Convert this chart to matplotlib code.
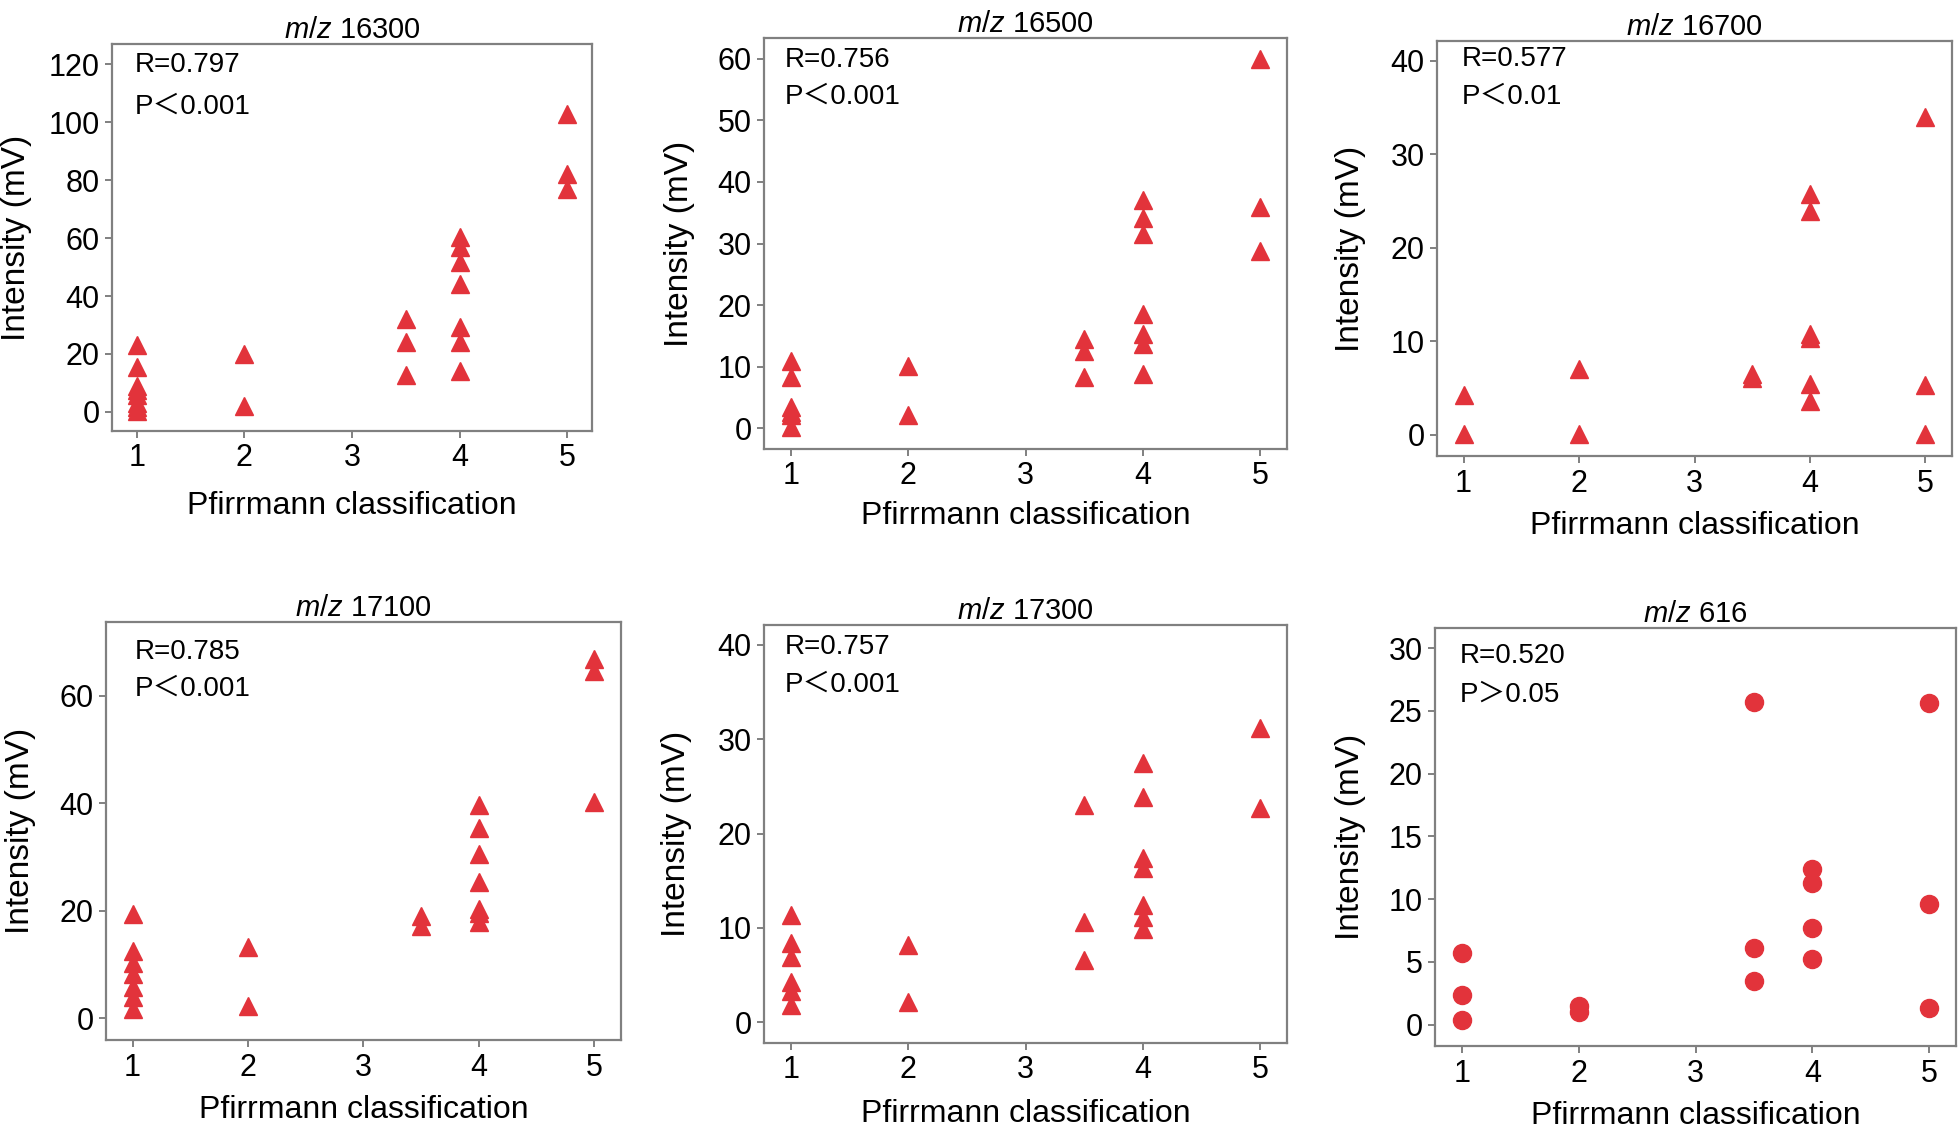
import matplotlib
matplotlib.use("Agg")
import matplotlib.pyplot as plt

plt.rcParams['font.family'] = ['Liberation Sans', 'Noto Sans CJK SC', 'DejaVu Sans']
plt.rcParams['mathtext.fontset'] = 'custom'
plt.rcParams['mathtext.it'] = 'Liberation Sans:italic'
plt.rcParams['mathtext.rm'] = 'Liberation Sans'

# data: (grade, intensity) per panel
x16300 = [1, 1, 1, 1, 1, 1, 1, 1, 2, 2, 3.5, 3.5, 3.5, 4, 4, 4, 4, 4, 4, 4, 5, 5, 5]
y16300 = [23, 15.5, 9, 7.4, 5.8, 3.2, 1.8, 0.3, 20, 2, 32.2, 24.2, 12.8,
          60.5, 57, 51.8, 44.3, 29.2, 24.2, 14.2, 102.7, 82, 76.9]

x16500 = [1, 1, 1, 1, 1, 1, 2, 2, 3.5, 3.5, 3.5, 4, 4, 4, 4, 4, 4, 4, 5, 5, 5]
y16500 = [10.9, 8.3, 3.4, 2.6, 2.1, 0.2, 10.1, 2.1, 14.5, 12.6, 8.3,
          37.1, 34.2, 31.6, 18.5, 15.3, 13.7, 8.8, 60, 35.9, 28.7]

x16700 = [1, 1, 2, 2, 3.5, 3.5, 4, 4, 4, 4, 4, 4, 5, 5, 5]
y16700 = [4.2, 0.1, 7.0, 0.1, 6.5, 6.0, 25.7, 23.9, 10.7, 10.3, 5.4, 3.6, 34.0, 5.3, 0.1]

x17100 = [1, 1, 1, 1, 1, 1, 1, 2, 2, 3.5, 3.5, 4, 4, 4, 4, 4, 4, 4, 5, 5, 5]
y17100 = [19.4, 12.6, 10.4, 8.3, 5.8, 4.0, 1.7, 13.2, 2.3, 19.0, 17.2,
          39.7, 35.4, 30.6, 25.3, 20.4, 19.6, 17.9, 66.9, 64.6, 40.3]

x17300 = [1, 1, 1, 1, 1, 1, 2, 2, 3.5, 3.5, 3.5, 4, 4, 4, 4, 4, 4, 4, 5, 5]
y17300 = [11.4, 8.4, 6.9, 4.3, 3.3, 1.8, 8.2, 2.1, 23.0, 10.6, 6.6,
          27.5, 23.9, 17.4, 16.3, 12.4, 11.2, 9.9, 31.2, 22.7]

x616 = [1, 1, 1, 2, 2, 3.5, 3.5, 3.5, 4, 4, 4, 4, 5, 5, 5]
y616 = [5.7, 2.4, 0.4, 1.5, 1.0, 25.7, 6.1, 3.5, 12.4, 11.3, 7.7, 5.2, 25.6, 9.6, 1.3]

titles = ['16300', '16500', '16700', '17100', '17300', '616']
stats_r = ['R=0.797', 'R=0.756', 'R=0.577', 'R=0.785', 'R=0.757', 'R=0.520']
stats_p = ['P＜0.001', 'P＜0.001', 'P＜0.01', 'P＜0.001', 'P＜0.001', 'P＞0.05']
xs = [x16300, x16500, x16700, x17100, x17300, x616]
ys = [y16300, y16500, y16700, y17100, y17300, y616]
yticks = [range(0, 121, 20), range(0, 61, 10), range(0, 41, 10),
          range(0, 61, 20), range(0, 41, 10), range(0, 31, 5)]
ylims = [(-6.6, 127), (-3.4, 63.4), (-2.3, 42.1), (-4, 73.7), (-2.2, 42.1), (-1.7, 31.6)]
markers = ['^', '^', '^', '^', '^', 'o']

W, H = 1960, 1137
# axes boxes in pixels: left, top, right, bottom
boxes = [(112, 44, 592, 431), (764, 38, 1287, 449), (1437, 41, 1952, 456),
         (106, 622, 621, 1040), (764, 625, 1287, 1043), (1435, 628, 1956, 1046)]
# stat text offsets from top-left corner (px): x, R line, P line
txt_off = [(23, 21, 63), (21, 22, 59), (25, 18, 56), (29, 30, 67), (21, 22, 60), (25, 28, 67)]
# label centres (px)
xlab_y = [506, 516, 526, 1110, 1114, 1116]
ylab_x = [17, 679, 1350, 20, 676, 1350]

fig = plt.figure(figsize=(W / 100, H / 100), dpi=100)
red = '#e2333b'
grey = '#808080'

for i in range(6):
    l, t, r, b = boxes[i]
    ax = fig.add_axes([l / W, 1 - b / H, (r - l) / W, (b - t) / H])
    ax.plot(xs[i], ys[i], ls='none', marker=markers[i], ms=13,
            color=red, mec=red)
    ax.set_xlim(0.77, 5.23)
    ax.set_ylim(*ylims[i])
    ax.set_xticks([1, 2, 3, 4, 5])
    ax.set_yticks(list(yticks[i]))
    for s in ax.spines.values():
        s.set_color(grey)
        s.set_linewidth(1.6)
    ax.tick_params(axis='both', colors=grey, labelcolor='black', labelsize=22,
                   length=5, width=1.4, pad=4)
    ax.set_xlabel('Pfirrmann classification', fontsize=23)
    ax.set_ylabel('Intensity (mV)', fontsize=24)
    ax.xaxis.set_label_coords(0.5, (b - xlab_y[i]) / (b - t))
    ax.xaxis.label.set_va('center')
    ax.yaxis.set_label_coords((ylab_x[i] - l) / (r - l), 0.5)
    ax.yaxis.label.set_va('center')
    ax.set_title(r'$\mathit{m/z}$ ' + titles[i], fontsize=21, pad=4)
    ox, oy1, oy2 = txt_off[i]
    ax.annotate(stats_r[i], xy=(0, 1), xycoords='axes fraction', xytext=(ox, -oy1),
                textcoords='offset pixels', fontsize=20, va='center', ha='left')
    ax.annotate(stats_p[i], xy=(0, 1), xycoords='axes fraction', xytext=(ox, -oy2),
                textcoords='offset pixels', fontsize=20, va='center', ha='left')

fig.savefig('out.png', dpi=100)
